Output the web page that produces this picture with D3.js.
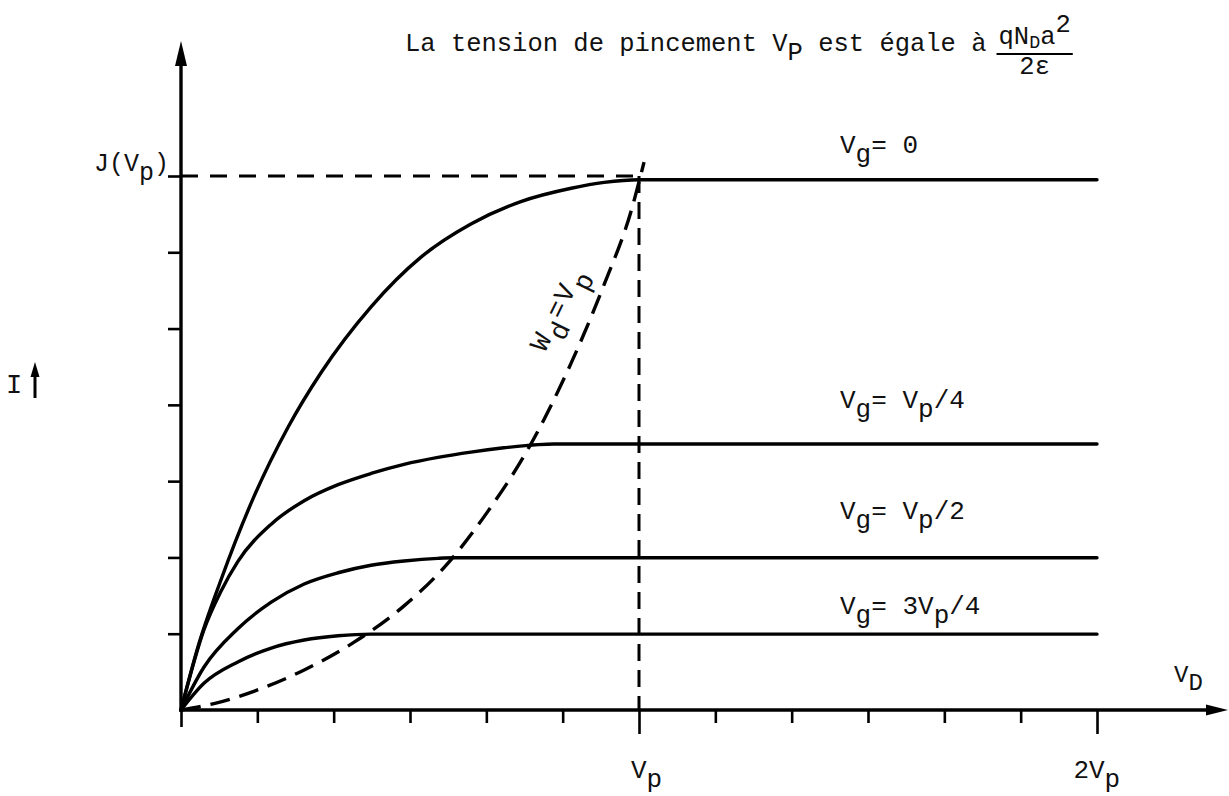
<!DOCTYPE html>
<html>
<head>
<meta charset="utf-8">
<script src="https://cdn.jsdelivr.net/npm/d3@7/dist/d3.min.js"></script>
<style>
  html, body { margin: 0; padding: 0; background: #fff; }
  svg text { font-family: "Liberation Mono", "DejaVu Sans Mono", monospace; fill: #111; white-space: pre; }
</style>
</head>
<body>
<svg id="chart" width="1229" height="796"></svg>
<script>
// ---- Data: drain current I (fraction of J(Vp)) versus drain voltage VD (in units of Vp) ----
const vdVg0   = [0, 0.037, 0.087, 0.159, 0.234, 0.306, 0.415, 0.524, 0.633, 0.742, 0.852, 0.924, 1.0, 2.0];
const iVg0    = [0, 0.118, 0.243, 0.399, 0.530, 0.632, 0.755, 0.848, 0.910, 0.952, 0.977, 0.988, 0.993, 0.993];

const vdVgQ1  = [0, 0.050, 0.087, 0.124, 0.197, 0.269, 0.343, 0.415, 0.487, 0.561, 0.633, 0.705, 0.780, 0.814, 2.0];
const iVgQ1   = [0, 0.150, 0.222, 0.278, 0.348, 0.392, 0.422, 0.443, 0.460, 0.473, 0.483, 0.491, 0.497, 0.498, 0.498];

const vdVgQ2  = [0, 0.050, 0.124, 0.197, 0.269, 0.343, 0.415, 0.487, 0.561, 0.596, 2.0];
const iVgQ2   = [0, 0.080, 0.152, 0.202, 0.236, 0.257, 0.271, 0.279, 0.284, 0.285, 0.285];

const vdVgQ3  = [0, 0.050, 0.124, 0.197, 0.269, 0.343, 0.415, 2.0];
const iVgQ3   = [0, 0.050, 0.090, 0.116, 0.131, 0.139, 0.142, 0.142];

// Saturation locus W_d = V_p (dashed)
const vdSat   = [0, 0.072, 0.159, 0.269, 0.378, 0.487, 0.583, 0.670, 0.760, 0.852, 0.924, 0.983, 1.011];
const iSat    = [0, 0.012, 0.035, 0.075, 0.127, 0.195, 0.275, 0.372, 0.492, 0.650, 0.797, 0.935, 1.026];

// Axis ticks: x in sixths of Vp up to 2Vp, y in sevenths of J(Vp)
const xTicks = d3.range(0, 13).map(i => i / 6);
const xMajor = [1, 2];
const yTicks = d3.range(1, 8).map(i => i / 7);
const pinchV = 1;      // V_D = V_p
const jLevel = 1;      // J(V_p)

// Labels, as [text, role] runs
const curveLabels = [
  [["V", ""], ["g", "sub"], ["= 0", ""]],
  [["V", ""], ["g", "sub"], ["= V", ""], ["p", "sub"], ["/4", ""]],
  [["V", ""], ["g", "sub"], ["= V", ""], ["p", "sub"], ["/2", ""]],
  [["V", ""], ["g", "sub"], ["= 3V", ""], ["p", "sub"], ["/4", ""]]
];
const xTickLabels = [
  { at: 1, parts: [["V", ""], ["p", "sub"]] },
  { at: 2, parts: [["2V", ""], ["p", "sub"]] }
];
const titleParts = [["La tension de pincement V", ""], ["P", "sub"], [" est égale à", ""]];
const fracNum = [["qN", ""], ["D", "small"], ["a", ""], ["2", "sup"]];
const fracDen = "2ε";
const jLabel = [["J(V", ""], ["p", "sub"], [")", ""]];
const satLabel = [["W", ""], ["d", "sub"], ["=V", ""], ["p", "sub"]];
const xAxisLabel = [["V", ""], ["D", "sub"]];

const series = [
  { vd: vdVg0, i: iVg0 },
  { vd: vdVgQ1, i: iVgQ1 },
  { vd: vdVgQ2, i: iVgQ2 },
  { vd: vdVgQ3, i: iVgQ3 }
];
const labelBaselines = [153, 408, 519, 614];

// ---- Drawing ----
const svg = d3.select("#chart");
const x = d3.scaleLinear().domain([0, 2]).range([181, 1097]);
const y = d3.scaleLinear().domain([0, 1]).range([710, 176]);
const ink = "#000";

// Rich text: runs with subscript / superscript offsets
function rich(sel, parts, size, shift) {
  let off = 0;
  parts.forEach(([t, role]) => {
    let target = 0, fs = size;
    if (role === "sub") target = shift;
    if (role === "sup") target = -shift;
    if (role === "small") { target = shift * 0.35; fs = size * 0.72; }
    sel.append("tspan").attr("dy", target - off).attr("font-size", fs).text(t);
    off = target;
  });
  return sel;
}

// x axis ticks
const gx = svg.append("g").attr("transform", `translate(0,${y(0)})`)
  .call(d3.axisBottom(x).tickValues(xTicks).tickSize(13).tickFormat(""));
gx.select(".domain").remove();
gx.selectAll(".tick line")
  .attr("stroke", ink).attr("stroke-width", 2.6)
  .attr("y2", d => xMajor.includes(d) ? 24 : (d === 0 ? 17 : 13));

// y axis ticks
const gy = svg.append("g").attr("transform", `translate(${x(0)},0)`)
  .call(d3.axisLeft(y).tickValues(yTicks).tickSize(13).tickFormat(""));
gy.select(".domain").remove();
gy.selectAll(".tick line").attr("stroke", ink).attr("stroke-width", 2.6);

// Axis lines with arrowheads
svg.append("line").attr("x1", x(0)).attr("x2", 1208).attr("y1", y(0)).attr("y2", y(0))
  .attr("stroke", ink).attr("stroke-width", 3.4);
svg.append("path").attr("d", `M1228,${y(0)} L1206,${y(0) - 5.5} L1206,${y(0) + 5.5} Z`).attr("fill", ink);
svg.append("line").attr("x1", x(0)).attr("x2", x(0)).attr("y1", y(0) + 2).attr("y2", 60)
  .attr("stroke", ink).attr("stroke-width", 3.4);
svg.append("path").attr("d", `M${x(0)},41 L${x(0) - 6},66 L${x(0) + 6},66 Z`).attr("fill", ink);

// Reference dashed lines at J(Vp) and Vp
svg.append("line").attr("x1", x(0)).attr("x2", x(pinchV)).attr("y1", y(jLevel)).attr("y2", y(jLevel))
  .attr("stroke", ink).attr("stroke-width", 3).attr("stroke-dasharray", "17,12");
svg.append("line").attr("x1", x(pinchV)).attr("x2", x(pinchV)).attr("y1", y(jLevel)).attr("y2", y(0))
  .attr("stroke", ink).attr("stroke-width", 3).attr("stroke-dasharray", "17,9");

// Characteristic curves
const line = d3.line().x(d => x(d[0])).y(d => y(d[1])).curve(d3.curveMonotoneX);
series.forEach(s => {
  svg.append("path")
    .attr("d", line(s.vd.map((v, k) => [v, s.i[k]])))
    .attr("fill", "none").attr("stroke", ink).attr("stroke-width", 3.4)
    .attr("stroke-linecap", "round");
});

// Saturation locus
svg.append("path")
  .attr("d", line(vdSat.map((v, k) => [v, iSat[k]])))
  .attr("fill", "none").attr("stroke", ink).attr("stroke-width", 3.4)
  .attr("stroke-dasharray", "20,10");

// Curve labels
curveLabels.forEach((parts, k) => {
  rich(svg.append("text").attr("x", 840).attr("y", labelBaselines[k]).attr("font-size", 26), parts, 26, 9);
});

// x tick labels (V centred on the tick)
xTickLabels.forEach(t => {
  const lead = t.parts[0][0].length - 1;
  rich(svg.append("text").attr("x", x(t.at) - 8 - lead * 15.6).attr("y", 778).attr("font-size", 26), t.parts, 26, 9);
});

// Axis names
rich(svg.append("text").attr("x", 1174).attr("y", 682).attr("font-size", 24), xAxisLabel, 24, 8);
svg.append("text").attr("x", 6).attr("y", 393).attr("font-size", 27).text("I");
svg.append("line").attr("x1", 35).attr("x2", 35).attr("y1", 398).attr("y2", 372)
  .attr("stroke", ink).attr("stroke-width", 3);
svg.append("path").attr("d", "M35,362 L30.5,377 L39.5,377 Z").attr("fill", ink);

// J(Vp) label
rich(svg.append("text").attr("x", 169).attr("y", 171).attr("font-size", 25).attr("text-anchor", "end"), jLabel, 25, 9);

// W_d = V_p along the dashed locus
rich(svg.append("text").attr("font-size", 27).attr("letter-spacing", 2)
  .attr("transform", "translate(545,353) rotate(-64)"), satLabel, 27, 12);

// Title with the fraction qN_D a^2 / 2ε
const title = rich(svg.append("text").attr("x", 405).attr("y", 51).attr("font-size", 25.5), titleParts, 25.5, 9);
const fx = 405 + title.node().getComputedTextLength() + 12;
const num = rich(svg.append("text").attr("x", fx).attr("y", 44).attr("font-size", 25.5), fracNum, 25.5, 12);
const nw = num.node().getComputedTextLength();
svg.append("line").attr("x1", fx - 2).attr("x2", fx + nw + 2).attr("y1", 54).attr("y2", 54)
  .attr("stroke", ink).attr("stroke-width", 2);
svg.append("text").attr("x", fx + nw / 2).attr("y", 74).attr("font-size", 25.5)
  .attr("text-anchor", "middle").text(fracDen);
</script>
</body>
</html>
